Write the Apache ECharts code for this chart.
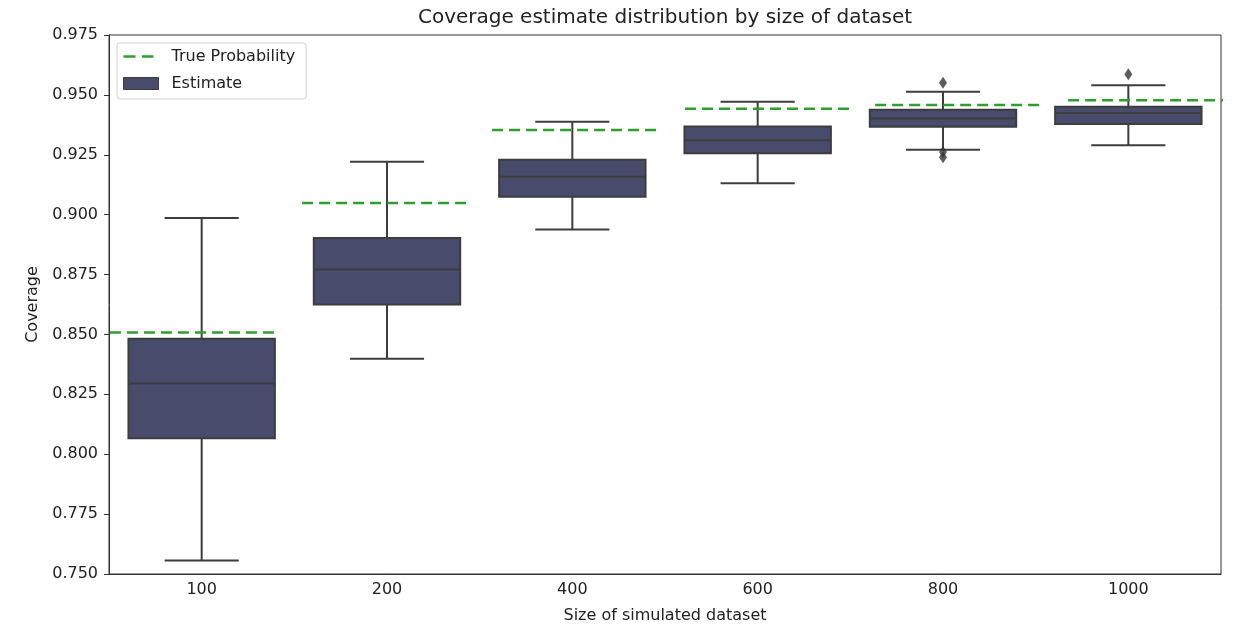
<!DOCTYPE html>
<html>
<head>
<meta charset="utf-8">
<script src="https://cdn.jsdelivr.net/npm/echarts@6/dist/echarts.min.js"></script>
<style>
html,body{margin:0;padding:0;background:#fff;}
#chart{width:1233px;height:629px;}
</style>
</head>
<body>
<div id="chart"></div>
<script>
// ---- data ----
const categories = ['100', '200', '400', '600', '800', '1000'];
const lowerWhisker = [0.7556, 0.8399, 0.8938, 0.9131, 0.9271, 0.9290];
const q1Values     = [0.8067, 0.8625, 0.9075, 0.9256, 0.9367, 0.9379];
const medianValues = [0.8295, 0.8771, 0.9158, 0.9311, 0.9401, 0.9424];
const q3Values     = [0.8482, 0.8903, 0.9229, 0.9368, 0.9438, 0.9451];
const upperWhisker = [0.8986, 0.9221, 0.9388, 0.9471, 0.9513, 0.9540];
const outlierCategory = [4, 4, 4, 5];
const outlierValues   = [0.9551, 0.9262, 0.9240, 0.9586];
const trueProbability = [0.8508, 0.9049, 0.9353, 0.9442, 0.9458, 0.9478];
const trueXStart = [-0.495, 0.542, 1.567, 2.608, 3.634, 4.675];
const trueXEnd   = [0.396, 1.436, 2.463, 3.504, 4.535, 5.57];
const yTicks = [0.750, 0.775, 0.800, 0.825, 0.850, 0.875, 0.900, 0.925, 0.950, 0.975];

const boxFill = '#484b6c';
const edge = '#3d3d3d';
const green = '#2ca02c';
const font = 'DejaVu Sans';

const boxData = categories.map((c, i) => [i, lowerWhisker[i], q1Values[i], medianValues[i], q3Values[i], upperWhisker[i]]);

const truthSeries = trueProbability.map((p, i) => ({
  name: 'True Probability',
  type: 'line',
  xAxisIndex: 1,
  yAxisIndex: 0,
  symbol: 'none',
  clip: true,
  silent: true,
  z: 5,
  lineStyle: { color: green, width: 2.5, type: [11, 6] },
  itemStyle: { color: green },
  data: [[trueXStart[i], p], [trueXEnd[i], p]]
}));

const dashIcon = 'path://M0,0L0,0M0,4.75h12v2.5h-12zM18.5,4.75h11.5v2.5h-11.5zM35,12L35,12';

const chart = echarts.init(document.getElementById('chart'), null, { renderer: 'canvas' });
chart.setOption({
  animation: false,
  backgroundColor: '#fff',
  textStyle: { fontFamily: font },
  title: {
    text: 'Coverage estimate distribution by size of dataset',
    left: 665, top: 8, textAlign: 'center', padding: 0,
    textStyle: { fontFamily: font, fontSize: 20, fontWeight: 'normal', color: '#222' }
  },
  legend: {
    left: 117, top: 43, orient: 'vertical',
    itemWidth: 35, itemHeight: 12, itemGap: 10,
    padding: [5, 11, 7, 6],
    backgroundColor: 'rgba(255,255,255,0.85)',
    borderColor: '#d0d0d0', borderWidth: 1, borderRadius: 3,
    textStyle: { fontFamily: font, fontSize: 16, color: '#222', lineHeight: 17, padding: [0, 0, 0, 8] },
    data: [
      { name: 'True Probability', icon: dashIcon, itemStyle: { color: green, borderWidth: 0 } },
      { name: 'Estimate', icon: 'rect', itemStyle: { color: boxFill, borderColor: edge, borderWidth: 1 } }
    ]
  },
  grid: { left: 109, width: 1112, top: 35, height: 542, show: true, borderColor: '#333', borderWidth: 1, containLabel: false },
  xAxis: [
    {
      type: 'category', data: categories, boundaryGap: true,
      name: 'Size of simulated dataset', nameLocation: 'middle', nameGap: 34,
      nameTextStyle: { fontFamily: font, fontSize: 16, color: '#222' },
      axisLine: { onZero: false, lineStyle: { color: '#333', width: 1 } },
      axisTick: { alignWithLabel: true, length: 5, lineStyle: { color: '#333' } },
      axisLabel: { fontFamily: font, fontSize: 16, color: '#222', margin: 8 },
      splitLine: { show: false }
    },
    { type: 'value', min: -0.5, max: 5.5, show: false }
  ],
  yAxis: {
    type: 'value', min: 0.75, max: 0.975, interval: 0.025,
    name: 'Coverage', nameLocation: 'middle', nameGap: 68,
    nameTextStyle: { fontFamily: font, fontSize: 16, color: '#222' },
    axisLine: { show: true, onZero: false, lineStyle: { color: '#333', width: 1 } },
    axisTick: { show: true, length: 5, lineStyle: { color: '#333' } },
    axisLabel: { fontFamily: font, fontSize: 16, color: '#222', margin: 11,
      formatter: v => { const t = yTicks.find(x => Math.abs(x - v) < 1e-9); return (t !== undefined ? t : v).toFixed(3); } },
    splitLine: { show: false }
  },
  series: [
    {
      name: 'Estimate',
      type: 'custom',
      xAxisIndex: 0, yAxisIndex: 0,
      itemStyle: { color: boxFill, borderColor: edge },
      encode: { x: 0, y: [1, 2, 3, 4, 5] },
      data: boxData,
      z: 3,
      renderItem: function (params, api) {
        const idx = api.value(0);
        const band = api.size([1, 0])[0];
        const cx = api.coord([idx, api.value(3)])[0];
        const yLw = api.coord([idx, api.value(1)])[1];
        const yQ1 = api.coord([idx, api.value(2)])[1];
        const yMed = api.coord([idx, api.value(3)])[1];
        const yQ3 = api.coord([idx, api.value(4)])[1];
        const yUw = api.coord([idx, api.value(5)])[1];
        const hw = band * 0.395;
        const cw = band * 0.2;
        const ls = { stroke: edge, lineWidth: 2 };
        return {
          type: 'group',
          children: [
            { type: 'line', shape: { x1: cx, y1: yQ3, x2: cx, y2: yUw }, style: ls },
            { type: 'line', shape: { x1: cx, y1: yQ1, x2: cx, y2: yLw }, style: ls },
            { type: 'line', shape: { x1: cx - cw, y1: yUw, x2: cx + cw, y2: yUw }, style: ls },
            { type: 'line', shape: { x1: cx - cw, y1: yLw, x2: cx + cw, y2: yLw }, style: ls },
            { type: 'rect', shape: { x: cx - hw, y: yQ3, width: 2 * hw, height: yQ1 - yQ3 },
              style: { fill: boxFill, stroke: edge, lineWidth: 2 } },
            { type: 'line', shape: { x1: cx - hw, y1: yMed, x2: cx + hw, y2: yMed }, style: ls }
          ]
        };
      }
    },
    {
      name: 'Outliers',
      type: 'scatter',
      xAxisIndex: 0, yAxisIndex: 0,
      symbol: 'diamond', symbolSize: [8, 12],
      itemStyle: { color: '#333' },
      z: 4,
      data: outlierValues.map((v, i) => [outlierCategory[i], v])
    },
    ...truthSeries
  ]
});
</script>
</body>
</html>
